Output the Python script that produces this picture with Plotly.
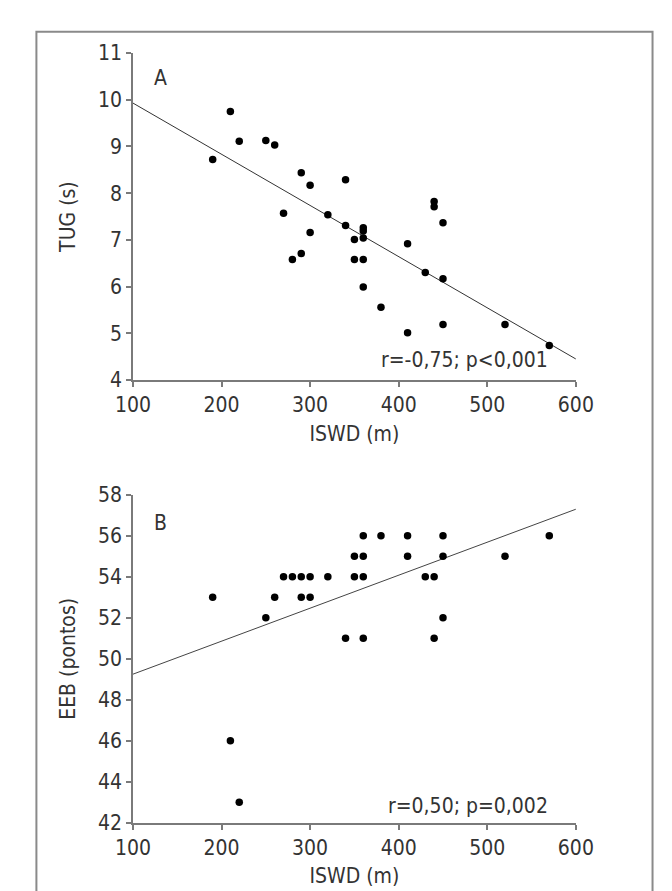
import plotly.graph_objects as go

# ISWD (m) and TUG (s), panel A
iswd_a = [190, 210, 220, 250, 260, 270, 280, 290, 290, 300, 300, 320, 340, 340,
          350, 350, 360, 360, 360, 360, 360, 380, 410, 410, 430, 440, 440,
          450, 450, 450, 520, 570]
tug = [8.72, 9.75, 9.11, 9.13, 9.03, 7.57, 6.58, 8.44, 6.71, 8.17, 7.16, 7.54, 8.29, 7.31,
       7.01, 6.58, 7.26, 7.19, 7.04, 6.58, 5.99, 5.56, 6.92, 5.01, 6.30, 7.82, 7.71,
       7.37, 6.17, 5.19, 5.19, 4.74]

# ISWD (m) and EEB (pontos), panel B
iswd_b = [190, 210, 220, 250, 260, 270, 280, 290, 290, 300, 300, 320, 340, 350, 350,
          360, 360, 360, 360, 380, 410, 410, 430, 440, 440, 450, 450, 450, 520, 570]
eeb = [53, 46, 43, 52, 53, 54, 54, 54, 53, 54, 53, 54, 51, 55, 54,
       56, 55, 54, 51, 56, 56, 55, 54, 54, 51, 56, 55, 52, 55, 56]

# regression lines (end points)
fit_x = [100, 600]
fit_a = [9.93, 4.45]
fit_b = [49.25, 57.3]

x_ticks = [100, 200, 300, 400, 500, 600]
ticks_a = list(range(4, 12))
ticks_b = list(range(42, 59, 2))

FONT = "DejaVu Sans Condensed, Liberation Sans Narrow, sans-serif"
AX = "#7a7a7a"
W, H = 672, 891

fig = go.Figure()

fig.add_trace(go.Scatter(x=fit_x, y=fit_a, mode="lines", line=dict(color="#333", width=1),
                         xaxis="x", yaxis="y", hoverinfo="skip"))
fig.add_trace(go.Scatter(x=iswd_a, y=tug, mode="markers",
                         marker=dict(color="black", size=7.5), xaxis="x", yaxis="y"))
fig.add_trace(go.Scatter(x=fit_x, y=fit_b, mode="lines", line=dict(color="#444", width=1),
                         xaxis="x2", yaxis="y2", hoverinfo="skip"))
fig.add_trace(go.Scatter(x=iswd_b, y=eeb, mode="markers",
                         marker=dict(color="black", size=7.5), xaxis="x2", yaxis="y2"))


def axis(**kw):
    d = dict(showline=True, linecolor=AX, linewidth=1.5, ticks="outside", ticklen=5,
             tickcolor=AX, tickwidth=1.5, showgrid=False, zeroline=False,
             tickfont=dict(size=21, color="#333"), title_font=dict(size=21, color="#333"))
    d.update(kw)
    return d


xdom = [113 / W, 581 / W]
fig.update_layout(
    width=W, height=H,
    margin=dict(l=0, r=0, t=0, b=0),
    paper_bgcolor="white", plot_bgcolor="white",
    showlegend=False,
    font=dict(family=FONT, color="#333"),
    xaxis=axis(domain=xdom, range=[100, 600], tickvals=x_ticks, anchor="y",
               title=dict(text="ISWD (m)", standoff=10)),
    yaxis=axis(domain=[1 - 370 / H, 1 - 34 / H], range=[4, 11], tickvals=ticks_a, anchor="x",
               title=dict(text="TUG (s)", standoff=17)),
    xaxis2=axis(domain=xdom, range=[100, 600], tickvals=x_ticks, anchor="y2",
                title=dict(text="ISWD (m)", standoff=10)),
    yaxis2=axis(domain=[1 - 825 / H, 1 - 488 / H], range=[42, 58], tickvals=ticks_b, anchor="x2",
                title=dict(text="EEB (pontos)", standoff=17)),
)

fig.add_annotation(x=121, y=10.46, xref="x", yref="y", text="A", showarrow=False,
                   xanchor="left", font=dict(size=21, color="#333"))
fig.add_annotation(x=571, y=4.42, xref="x", yref="y", text="r=-0,75; p<0,001", showarrow=False,
                   xanchor="right", font=dict(size=21, color="#333"))
fig.add_annotation(x=121, y=56.62, xref="x2", yref="y2", text="B", showarrow=False,
                   xanchor="left", font=dict(size=21, color="#333"))
fig.add_annotation(x=571, y=42.8, xref="x2", yref="y2", text="r=0,50; p=0,002", showarrow=False,
                   xanchor="right", font=dict(size=21, color="#333"))

# outer frame
fig.add_shape(type="rect", xref="paper", yref="paper", x0=11 / W, x1=662 / W,
              y0=-0.05, y1=1 - 12 / H, line=dict(color="#8a8a8a", width=2))

fig.write_html("out.html")
